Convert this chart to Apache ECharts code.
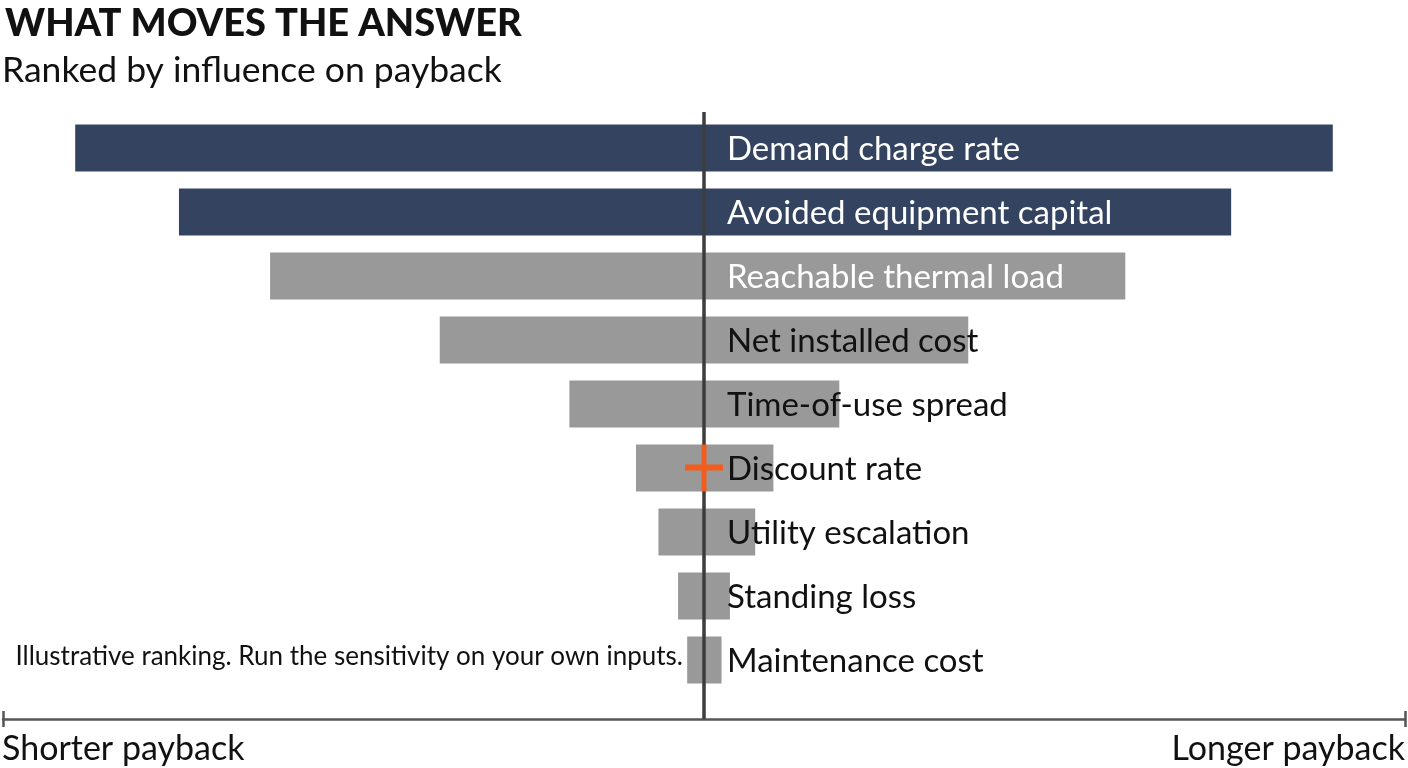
<!DOCTYPE html>
<html>
<head>
<meta charset="utf-8">
<script src="https://cdn.jsdelivr.net/npm/echarts@6/dist/echarts.min.js"></script>
<style>
  html, body { margin: 0; padding: 0; background: #ffffff; }
  #chart { width: 1408px; height: 768px; }
</style>
</head>
<body>
<div id="chart"></div>
<script>
// ---- data ----
const categories = ['Demand charge rate', 'Avoided equipment capital', 'Reachable thermal load', 'Net installed cost', 'Time-of-use spread', 'Discount rate', 'Utility escalation', 'Standing loss', 'Maintenance cost'];
const shorterSide = [-89.7, -74.9, -61.9, -37.7, -19.2, -9.7, -6.5, -3.7, -2.4];
const longerSide = [89.7, 75.2, 60.1, 37.7, 19.3, 9.9, 7.3, 3.7, 2.5];
const highlighted = ['Demand charge rate', 'Avoided equipment capital'];
const whiteLabel = ['Demand charge rate', 'Avoided equipment capital', 'Reachable thermal load'];
const baseCaseMarker = ['Discount rate'];
const axisEnds = ['Shorter payback', 'Longer payback'];
const titleText = 'WHAT MOVES THE ANSWER';
const subtitleText = 'Ranked by influence on payback';
const noteText = 'Illustrative ranking. Run the sensitivity on your own inputs.';

// ---- styles ----
const NAVY = '#34435f';
const GRAY = '#999999';
const FONT = 'Lato';

const colorFor = c => highlighted.includes(c) ? NAVY : GRAY;

const chart = echarts.init(document.getElementById('chart'));
chart.setOption({
  animation: false,
  backgroundColor: '#ffffff',
  title: [
    { text: titleText, left: 0, top: 0, textStyle: { fontFamily: FONT, fontSize: 38, fontWeight: 900, color: '#111111' } },
    { text: subtitleText, left: -3, top: 48, textStyle: { fontFamily: FONT, fontSize: 35.5, fontWeight: 'normal', color: '#111111' } }
  ],
  grid: [
    { left: 3, right: 3, top: 116, height: 576 },
    { left: 3, right: 3, top: 112, bottom: 49 }
  ],
  xAxis: [
    { gridIndex: 0, type: 'value', min: -100, max: 100, show: false },
    { gridIndex: 1, type: 'value', min: -100, max: 100, interval: 200, position: 'bottom',
      axisLine: { show: true, lineStyle: { color: '#555555', width: 2.5 } },
      axisTick: { show: true, length: 8, lineStyle: { color: '#555555', width: 2.5 } },
      axisLabel: { show: false }, splitLine: { show: false } },
    { gridIndex: 1, type: 'value', min: -100, max: 100, interval: 200, position: 'bottom',
      axisLine: { show: false },
      axisTick: { show: true, inside: true, length: 8, lineStyle: { color: '#555555', width: 2.5 } },
      axisLabel: { show: false }, splitLine: { show: false } }
  ],
  yAxis: [
    { gridIndex: 0, type: 'category', data: categories, inverse: true, show: false },
    { gridIndex: 1, type: 'value', min: 0, max: 1, show: false }
  ],
  series: [
    {
      type: 'bar', xAxisIndex: 0, yAxisIndex: 0, barWidth: 47, barGap: '-100%', z: 2,
      data: shorterSide.map((v, i) => ({ value: v, itemStyle: { color: colorFor(categories[i]) } })),
      silent: true
    },
    {
      type: 'bar', xAxisIndex: 0, yAxisIndex: 0, barWidth: 47, barGap: '-100%', z: 2,
      data: longerSide.map((v, i) => ({
        value: v,
        itemStyle: { color: colorFor(categories[i]) },
        label: { color: whiteLabel.includes(categories[i]) ? '#ffffff' : '#111111' }
      })),
      label: {
        show: true, position: 'insideLeft', distance: 5, offset: [18, 1],
        fontFamily: FONT, fontSize: 33,
        formatter: p => categories[p.dataIndex]
      },
      silent: true
    },
    {
      type: 'line', xAxisIndex: 1, yAxisIndex: 1, z: 5, symbol: 'none', silent: true,
      lineStyle: { color: '#3d3d3d', width: 3.5 },
      data: [[0, 0], [0, 1]]
    },
    {
      type: 'scatter', xAxisIndex: 0, yAxisIndex: 0, z: 10, silent: true,
      symbol: 'path://M0,20 L38,20 L38,26 L0,26 Z M16.5,0 L21.5,0 L21.5,47 L16.5,47 Z',
      symbolSize: [38, 47],
      itemStyle: { color: '#f25c1c', opacity: 1 },
      data: baseCaseMarker.map(c => [0, c])
    }
  ],
  graphic: [
    { type: 'text', right: 1408 - 683, top: 644, style: { text: noteText, fontFamily: FONT, fontSize: 26, fill: '#111111' } },
    { type: 'text', left: 2, top: 732, style: { text: axisEnds[0], fontFamily: FONT, fontSize: 34, fill: '#111111' } },
    { type: 'text', right: 3, top: 732, style: { text: axisEnds[1], fontFamily: FONT, fontSize: 34, fill: '#111111' } }
  ]
});
</script>
</body>
</html>
